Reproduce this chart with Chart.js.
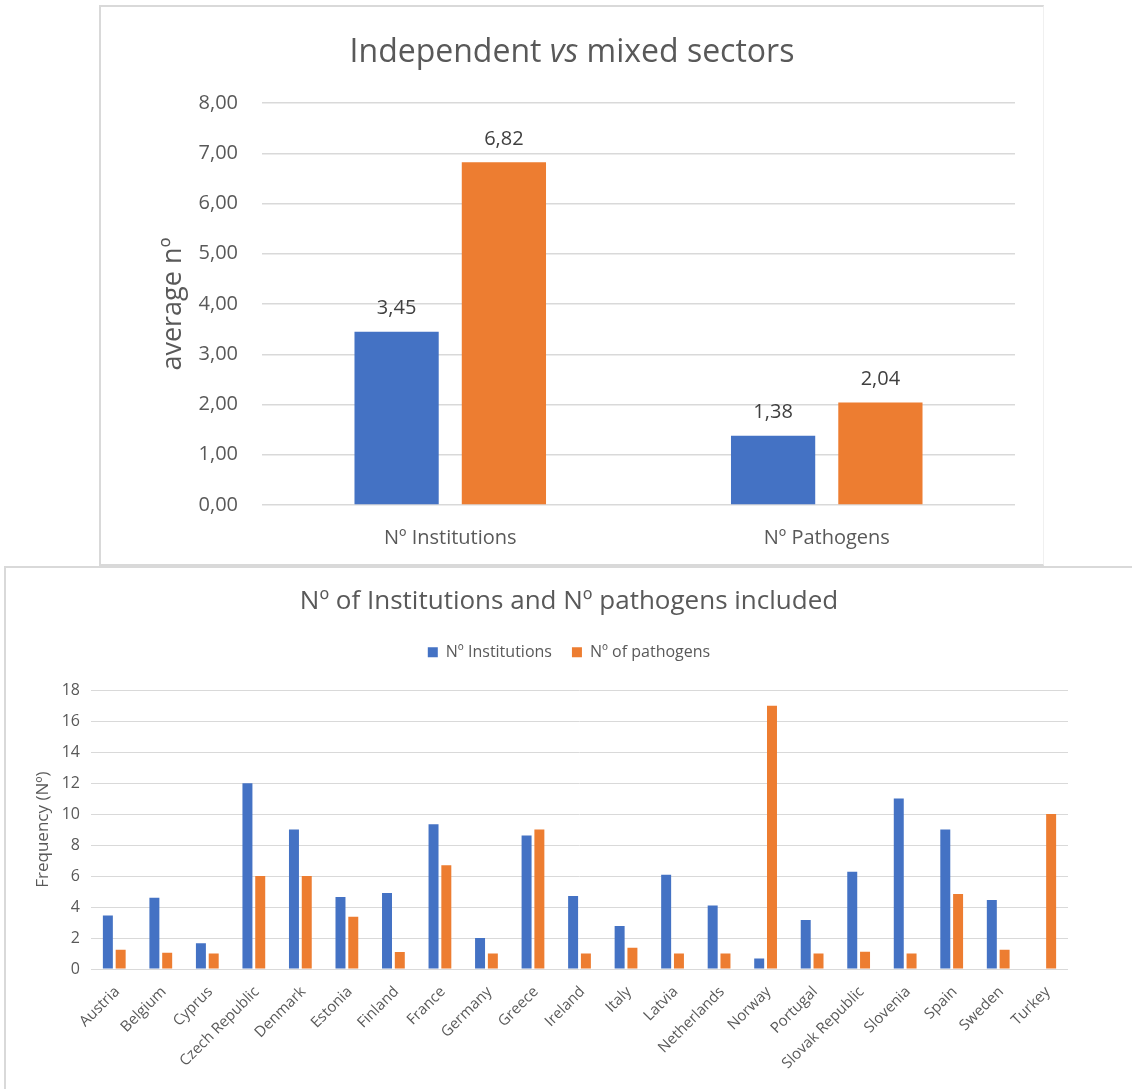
<!DOCTYPE html>
<html>
<head>
<meta charset="utf-8">
<title>Sectors and countries</title>
<script src="https://cdn.jsdelivr.net/npm/chart.js@4.4.1/dist/chart.umd.min.js"></script>
<style>
  body { margin: 0; background: #fff; width: 1132px; height: 1089px; position: relative; overflow: hidden; }
  .box { position: absolute; box-sizing: border-box; background: #fff; }
  #sectorsBox { left: 99px; top: 5px; width: 945px; height: 561px; border: 2px solid #d9d9d9; border-right: 1px solid #f0f0f0; }
  #countryBox { left: 4px; top: 566px; width: 1140px; height: 540px; border-left: 2px solid #d9d9d9; border-top: 2px solid #d9d9d9; }
  canvas { display: block; }
</style>
</head>
<body>
<div class="box" id="sectorsBox"><canvas id="sectorsChart" width="942" height="557"></canvas></div>
<div class="box" id="countryBox"><canvas id="countryChart" width="1126" height="521"></canvas></div>
<script>
// averages per sector type
const sectorCategories = ['Nº Institutions', 'Nº Pathogens'];
const independentAvg = [3.45, 1.38];
const mixedAvg = [6.82, 2.04];

// per-country counts
const countries = ['Austria', 'Belgium', 'Cyprus', 'Czech Republic', 'Denmark', 'Estonia', 'Finland',
  'France', 'Germany', 'Greece', 'Ireland', 'Italy', 'Latvia', 'Netherlands', 'Norway', 'Portugal',
  'Slovak Republic', 'Slovenia', 'Spain', 'Sweden', 'Turkey'];
const institutions = [3.45, 4.6, 1.66, 12, 9, 4.65, 4.9, 9.35, 2, 8.62, 4.71, 2.77, 6.09, 4.1, 0.67,
  3.16, 6.28, 11, 9, 4.45, null];
const pathogens = [1.25, 1.05, 1, 6, 6, 3.38, 1.1, 6.7, 1, 9, 1, 1.38, 1, 1, 17, 1, 1.12, 1, 4.84,
  1.25, 10];

const BLUE = '#4472c4';
const ORANGE = '#ed7d31';
const GRID = '#d9d9d9';

Chart.defaults.font.family = '"Open Sans", sans-serif';
Chart.defaults.color = '#595959';

const commaFixed = (v, d) => Number(v).toFixed(d).replace('.', ',');

// value above each bar
const valueLabels = {
  id: 'valueLabels',
  afterDatasetsDraw(chart) {
    const ctx = chart.ctx;
    ctx.save();
    ctx.font = '20px "Open Sans"';
    ctx.fillStyle = '#404040';
    ctx.textAlign = 'center';
    ctx.textBaseline = 'middle';
    chart.data.datasets.forEach((ds, i) => {
      chart.getDatasetMeta(i).data.forEach((bar, j) => {
        ctx.fillText(commaFixed(ds.data[j], 2), bar.x, bar.y - 23);
      });
    });
    ctx.restore();
  }
};

// title with the italic "vs"
const sectorsTitle = {
  id: 'sectorsTitle',
  afterDraw(chart) {
    const ctx = chart.ctx;
    const parts = [['Independent ', 'normal'], ['vs', 'italic'], [' mixed sectors', 'normal']];
    const fontFor = style => style + ' 32px "Open Sans"';
    ctx.save();
    ctx.fillStyle = '#595959';
    ctx.textBaseline = 'alphabetic';
    let total = 0;
    parts.forEach(([t, s]) => { ctx.font = fontFor(s); total += ctx.measureText(t).width; });
    let x = chart.width / 2 - total / 2;
    parts.forEach(([t, s]) => {
      ctx.font = fontFor(s);
      ctx.fillText(t, x, 55);
      x += ctx.measureText(t).width;
    });
    ctx.restore();
  }
};

// extra room between legend and plot
const legendSpacer = {
  id: 'legendSpacer',
  beforeInit(chart) {
    if (!chart.legend) return;
    const fit = chart.legend.fit;
    chart.legend.fit = function () {
      fit.call(this);
      this.height += 20;
    };
  }
};

new Chart(document.getElementById('sectorsChart'), {
  type: 'bar',
  data: {
    labels: sectorCategories,
    datasets: [
      { label: 'Independent', data: independentAvg, backgroundColor: BLUE, categoryPercentage: 0.57, barPercentage: 0.785 },
      { label: 'Mixed', data: mixedAvg, backgroundColor: ORANGE, categoryPercentage: 0.57, barPercentage: 0.785 }
    ]
  },
  options: {
    responsive: false,
    animation: false,
    layout: { padding: { top: 96, right: 28 } },
    plugins: { legend: { display: false }, tooltip: { enabled: false } },
    scales: {
      x: {
        grid: { display: false, drawTicks: false },
        border: { display: false },
        ticks: { font: { size: 20 }, padding: 21 },
        afterFit: s => { s.height = 59; }
      },
      y: {
        min: 0,
        max: 8,
        ticks: { stepSize: 1, font: { size: 20 }, padding: 24, callback: v => commaFixed(v, 2) },
        grid: { color: GRID, lineWidth: 1.5, drawTicks: false },
        border: { display: false },
        title: { display: true, text: 'average nº', font: { size: 27 }, padding: { top: 56, bottom: 0 } },
        afterFit: s => { s.width = 161; }
      }
    }
  },
  plugins: [valueLabels, sectorsTitle]
});

new Chart(document.getElementById('countryChart'), {
  type: 'bar',
  data: {
    labels: countries,
    datasets: [
      { label: 'Nº Institutions', data: institutions, backgroundColor: BLUE, categoryPercentage: 0.55, barPercentage: 0.78 },
      { label: 'Nº of pathogens', data: pathogens, backgroundColor: ORANGE, categoryPercentage: 0.55, barPercentage: 0.78 }
    ]
  },
  options: {
    responsive: false,
    animation: false,
    plugins: {
      title: {
        display: true,
        text: 'Nº of Institutions and Nº pathogens included',
        font: { size: 26, weight: 'normal' },
        padding: { top: 18, bottom: 7 }
      },
      legend: {
        position: 'top',
        labels: { boxWidth: 10, boxHeight: 10, padding: 20, font: { size: 16 } }
      },
      tooltip: { enabled: false }
    },
    scales: {
      x: {
        grid: { display: false, drawTicks: false },
        border: { display: false },
        ticks: { autoSkip: false, maxRotation: 45, minRotation: 45, font: { size: 15 }, padding: 14, labelOffset: 3 },
        afterFit: s => { s.height = 120; }
      },
      y: {
        min: 0,
        max: 18,
        ticks: { stepSize: 2, font: { size: 16 }, padding: 11 },
        grid: { color: GRID, drawTicks: false },
        border: { display: false },
        title: { display: true, text: 'Frequency (Nº)', font: { size: 17 }, padding: { top: 27, bottom: 0 } },
        afterFit: s => { s.width = 85; }
      },
      // empty strip on the right side of the plot
      yRight: {
        position: 'right',
        grid: { display: false, drawTicks: false },
        border: { display: false },
        ticks: { display: false },
        afterFit: s => { s.width = 64; }
      }
    }
  },
  plugins: [legendSpacer]
});
</script>
</body>
</html>
